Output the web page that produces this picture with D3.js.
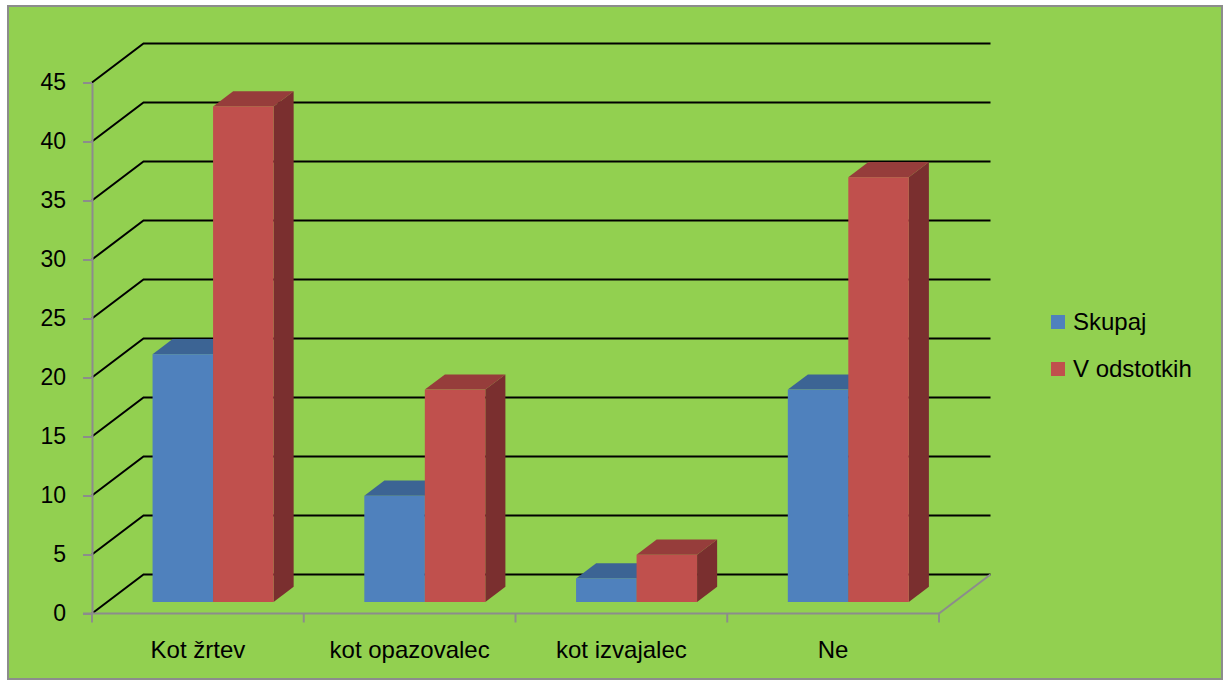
<!DOCTYPE html>
<html>
<head>
<meta charset="utf-8">
<script src="https://cdn.jsdelivr.net/npm/d3@7"></script>
<style>
  html, body { margin: 0; padding: 0; background: #ffffff; }
  svg { display: block; }
  text { font-family: "Liberation Sans", Arial, sans-serif; fill: #000; }
</style>
</head>
<body>
<svg id="chart" width="1228" height="681"></svg>
<script>
// Categories, series and values
const categories = ["Kot žrtev", "kot opazovalec", "kot izvajalec", "Ne"];
const seriesNames = ["Skupaj", "V odstotkih"];
const skupaj = [21, 9, 2, 18];
const vOdstotkih = [42, 18, 4, 36];
const yTicks = [0, 5, 10, 15, 20, 25, 30, 35, 40, 45];

const seriesValues = [skupaj, vOdstotkih];
const frontColors = ["#4F81BD", "#C0504D"];
const topColors = ["#3C6494", "#963D3B"];
const sideColors = ["#355A86", "#7A2F2F"];

const svg = d3.select("#chart");

// Frame
svg.append("rect").attr("x", 8).attr("y", 6).attr("width", 1214).attr("height", 673)
  .attr("fill", "#92D050").attr("stroke", "#8C8C8C").attr("stroke-width", 2);

// 3D projection: depth vector from front plane to back wall
const depthX = 51.5, depthY = -39;
const plotLeft = 92, plotRight = 939;
const y = d3.scaleLinear().domain([0, 45]).range([613.5, 82.5]);
const xCat = d3.scaleBand().domain(categories).range([plotLeft, plotRight]).paddingInner(0).paddingOuter(0);
const barW = xCat.bandwidth() / 3.5;          // gap width 150 %
const xSer = d3.scaleBand().domain(seriesNames).range([0, 2 * barW]);

// Bars sit between these fractions of the depth
const fFront = 0.295, fBack = 0.685;

// Back wall and side wall gridlines
const grid = svg.append("g");
yTicks.forEach(v => {
  const yy = y(v);
  grid.append("path")
    .attr("d", `M${plotLeft},${yy} L${plotLeft + depthX},${yy + depthY} L${plotRight + depthX},${yy + depthY}`)
    .attr("fill", "none").attr("stroke", "#000").attr("stroke-width", 2);
});

// Floor edge on the right
svg.append("path")
  .attr("d", `M${plotRight},${y(0)} L${plotRight + depthX},${y(0) + depthY}`)
  .attr("fill", "none").attr("stroke", "#8C8C8C").attr("stroke-width", 2);

// Y axis
const yAxis = d3.axisLeft(y).tickValues(yTicks).tickSize(9).tickPadding(17).tickSizeOuter(0);
const gy = svg.append("g").attr("transform", `translate(${plotLeft},0)`).call(yAxis);
gy.select(".domain").attr("stroke", "#8C8C8C").attr("stroke-width", 2);
gy.selectAll(".tick line").attr("stroke", "#8C8C8C").attr("stroke-width", 2);
gy.selectAll(".tick text").attr("font-size", 23).attr("font-family", "Liberation Sans, Arial, sans-serif").attr("fill", "#000");

// X axis: line, boundary ticks, centred labels
const xEdges = d3.scaleLinear().domain([0, categories.length]).range([plotLeft, plotRight]);
const gx = svg.append("g");
gx.append("line").attr("x1", plotLeft - 9).attr("x2", plotRight).attr("y1", y(0)).attr("y2", y(0))
  .attr("stroke", "#8C8C8C").attr("stroke-width", 2);
d3.range(categories.length + 1).forEach(i => {
  gx.append("line").attr("x1", xEdges(i)).attr("x2", xEdges(i)).attr("y1", y(0)).attr("y2", y(0) + 9)
    .attr("stroke", "#8C8C8C").attr("stroke-width", 2);
});
const xAxis = d3.axisBottom(xCat).tickSize(0).tickPadding(0);
const gxl = svg.append("g").attr("transform", `translate(0,${y(0)})`).call(xAxis);
gxl.select(".domain").remove();
gxl.selectAll(".tick text").attr("font-size", 24).attr("font-family", "Liberation Sans, Arial, sans-serif")
  .attr("fill", "#000").attr("dy", null).attr("y", 44);

// 3D bars
const bars = svg.append("g");
const fx = depthX * fFront, fy = depthY * fFront;
const bx = depthX * (fBack - fFront), by = depthY * (fBack - fFront);
categories.forEach((c, ci) => {
  const cx = xCat(c) + xCat.bandwidth() / 2 + fx;
  seriesNames.forEach((s, si) => {
    const v = seriesValues[si][ci];
    const x0 = cx - barW + xSer(s);
    const x1 = x0 + barW;
    const yb = y(0) + fy;
    const yt = y(v) + fy;
    const g = bars.append("g");
    // side face
    g.append("path")
      .attr("d", `M${x1},${yb} L${x1 + bx},${yb + by} L${x1 + bx},${yt + by} L${x1},${yt} Z`)
      .attr("fill", sideColors[si]);
    // top face
    g.append("path")
      .attr("d", `M${x0},${yt} L${x1},${yt} L${x1 + bx},${yt + by} L${x0 + bx},${yt + by} Z`)
      .attr("fill", topColors[si]);
    // front face
    g.append("rect").attr("x", x0).attr("y", yt).attr("width", barW).attr("height", yb - yt)
      .attr("fill", frontColors[si]);
  });
});

// Legend
const legend = svg.append("g");
seriesNames.forEach((s, i) => {
  const ly = 322 + i * 47;
  legend.append("rect").attr("x", 1051).attr("y", ly - 7).attr("width", 14).attr("height", 14)
    .attr("fill", frontColors[i]);
  legend.append("text").attr("x", 1073).attr("y", ly + 8).attr("font-size", 24).text(s);
});
</script>
</body>
</html>
